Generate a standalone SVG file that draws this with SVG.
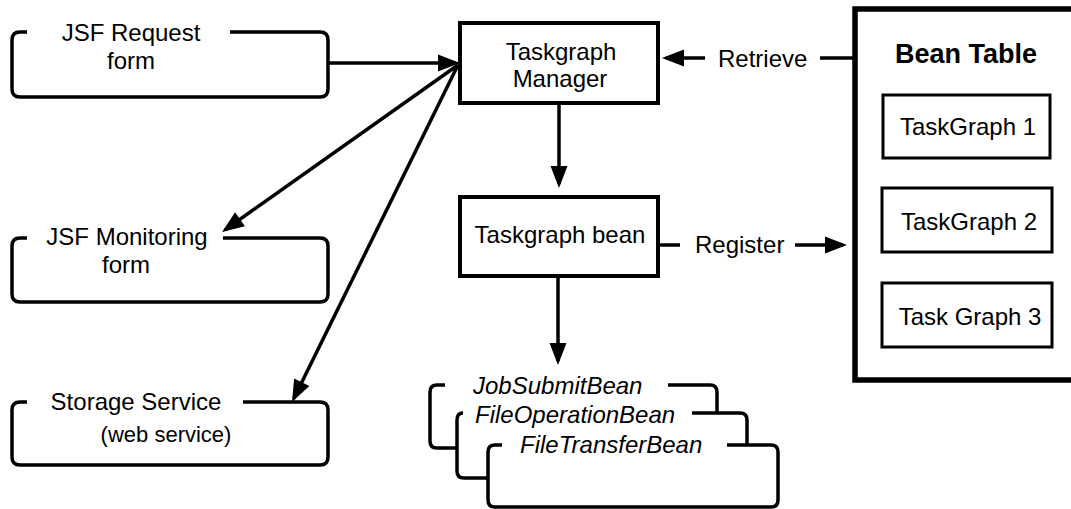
<svg xmlns="http://www.w3.org/2000/svg" width="1071" height="509" viewBox="0 0 1071 509">
<style>
text{font-family:"Liberation Sans",Arial,Helvetica,sans-serif;font-size:24px;fill:#000}
.c{text-anchor:middle}
.it{font-style:italic}
.shape{fill:none;stroke:#000;stroke-width:3.5;stroke-linejoin:round}
.box{fill:#fff;stroke:#000;stroke-width:4}
.inner{fill:#fff;stroke:#000;stroke-width:3}
.conn{fill:none;stroke:#000;stroke-width:3.5}
</style>
<defs>
<marker id="ah" markerUnits="userSpaceOnUse" markerWidth="24" markerHeight="20" refX="18" refY="8.5" orient="auto" overflow="visible">
<path d="M0,0 L22,8.5 L0,17 Z" fill="#000"/>
</marker>
</defs>
<rect width="1071" height="509" fill="#fff"/>

<g id="jsf-request">
<path class="shape" d="M27 32 H20 Q12 32 12 40 V89 Q12 97 20 97 H320 Q328 97 328 89 V40 Q328 32 320 32 H230"/>
<text class="c" x="131" y="41">JSF Request</text>
<text class="c" x="131" y="69">form</text>
</g>

<g id="jsf-monitoring">
<path class="shape" d="M27 238 H20 Q12 238 12 246 V294 Q12 302 20 302 H320 Q328 302 328 294 V246 Q328 238 320 238 H223"/>
<text class="c" x="127" y="245">JSF Monitoring</text>
<text class="c" x="126" y="273">form</text>
</g>

<g id="storage-service">
<path class="shape" d="M27 402 H20 Q12 402 12 410 V457 Q12 465 20 465 H320 Q328 465 328 457 V410 Q328 402 320 402 H243"/>
<text class="c" x="136" y="410">Storage Service</text>
<text class="c" x="166" y="442" style="font-size:22px">(web service)</text>
</g>

<g id="taskgraph-manager">
<rect class="box" x="460" y="23" width="198" height="80"/>
<text class="c" x="561" y="60">Taskgraph</text>
<text class="c" x="560" y="87">Manager</text>
</g>

<g id="taskgraph-bean">
<rect class="box" x="460" y="197" width="198" height="79"/>
<text class="c" x="560" y="243">Taskgraph bean</text>
</g>

<g id="beans">
<path class="shape" d="M445 385 H437 Q430 385 430 392 V441 Q430 448 437 448 H457"/>
<path class="shape" d="M668 385 H710 Q717 385 717 392 V413"/>
<path class="shape" d="M463 413 Q457 413 457 420 V471 Q457 478 464 478 H488"/>
<path class="shape" d="M692 413 H740 Q747 413 747 420 V445"/>
<path class="shape" d="M727 445 H771 Q778 445 778 452 V500 Q778 507 771 507 H495 Q488 507 488 500 V452 Q488 445 495 445 H502"/>
<text class="it" x="473" y="394">JobSubmitBean</text>
<text class="it" x="475" y="423">FileOperationBean</text>
<text class="it" x="520" y="453">FileTransferBean</text>
</g>

<g id="bean-table">
<rect x="855" y="9" width="240" height="371" fill="#fff" stroke="#000" stroke-width="5.5"/>
<text class="c" x="966" y="63" style="font-weight:bold;font-size:27px">Bean Table</text>
<g id="taskgraph-1">
<rect class="inner" x="883" y="95" width="167" height="63"/>
<text class="c" x="968" y="135">TaskGraph 1</text>
</g>
<g id="taskgraph-2">
<rect class="inner" x="882" y="188" width="170" height="64"/>
<text class="c" x="969" y="230">TaskGraph 2</text>
</g>
<g id="taskgraph-3">
<rect class="inner" x="882" y="283" width="170" height="64"/>
<text class="c" x="970" y="325">Task Graph 3</text>
</g>
</g>

<g id="connectors">
<line class="conn" x1="328" y1="63" x2="456" y2="63" marker-end="url(#ah)"/>
<line class="conn" x1="458" y1="65" x2="225.3" y2="229.7" marker-end="url(#ah)"/>
<line class="conn" x1="458" y1="65" x2="293.8" y2="398.4" marker-end="url(#ah)"/>
<line class="conn" x1="559" y1="103" x2="559" y2="184" marker-end="url(#ah)"/>
<line class="conn" x1="558" y1="276" x2="558" y2="361" marker-end="url(#ah)"/>
<line class="conn" x1="853" y1="58" x2="820" y2="58"/>
<line class="conn" x1="705" y1="58" x2="666" y2="58" marker-end="url(#ah)"/>
<text x="718" y="67">Retrieve</text>
<line class="conn" x1="658" y1="245" x2="680" y2="245"/>
<line class="conn" x1="795" y1="245" x2="843" y2="245" marker-end="url(#ah)"/>
<text x="695" y="253">Register</text>
</g>
</svg>
